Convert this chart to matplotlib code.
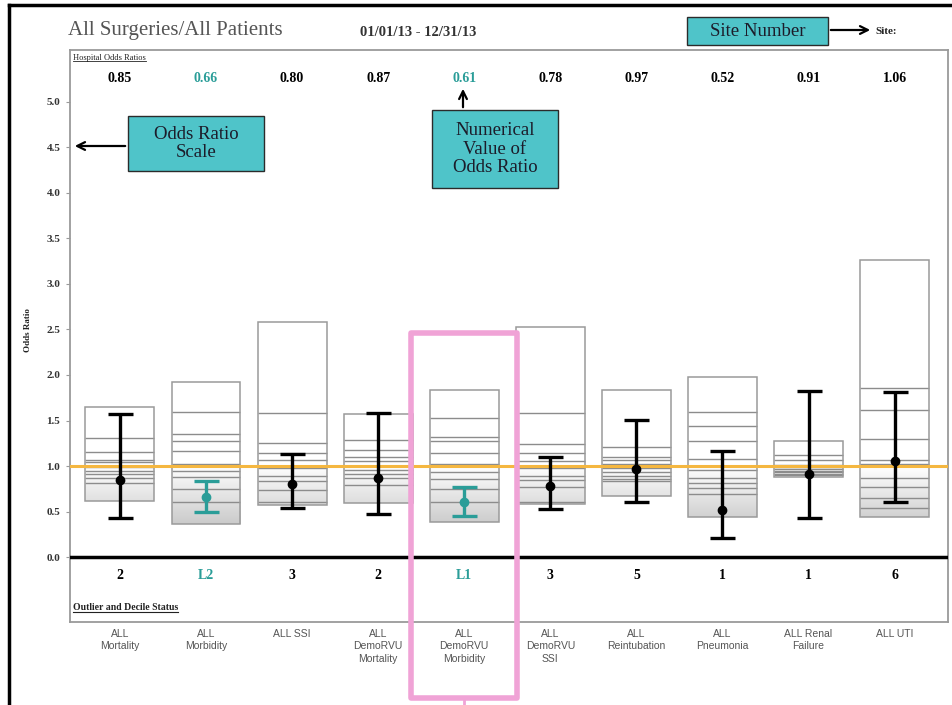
import numpy as np
import matplotlib
matplotlib.use("Agg")
import matplotlib.pyplot as plt
from matplotlib.patches import Rectangle, FancyArrowPatch
from matplotlib.lines import Line2D
from matplotlib.transforms import IdentityTransform

# data
categories = ["ALL\nMortality", "ALL\nMorbidity", "ALL SSI", "ALL\nDemoRVU\nMortality",
              "ALL\nDemoRVU\nMorbidity", "ALL\nDemoRVU\nSSI", "ALL\nReintubation",
              "ALL\nPneumonia", "ALL Renal\nFailure", "ALL UTI"]
odds = [0.85, 0.66, 0.80, 0.87, 0.61, 0.78, 0.97, 0.52, 0.91, 1.06]
ci_low = [0.43, 0.49, 0.54, 0.47, 0.45, 0.53, 0.60, 0.21, 0.43, 0.60]
ci_high = [1.57, 0.83, 1.13, 1.58, 0.77, 1.10, 1.51, 1.16, 1.82, 1.81]
status = ["2", "L2", "3", "2", "L1", "3", "5", "1", "1", "6"]
outlier = [False, True, False, False, True, False, False, False, False, False]

# min, nine decile lines, max for every category
deciles = [
    [0.62, 0.81, 0.865, 0.91, 0.945, 0.99, 1.04, 1.07, 1.15, 1.31, 1.65],
    [0.36, 0.61, 0.744, 0.876, 0.95, 1.02, 1.16, 1.27, 1.35, 1.59, 1.92],
    [0.57, 0.61, 0.74, 0.835, 0.89, 0.98, 1.07, 1.14, 1.25, 1.58, 2.58],
    [0.59, 0.79, 0.865, 0.91, 0.96, 1.00, 1.05, 1.10, 1.18, 1.29, 1.57],
    [0.39, 0.60, 0.747, 0.857, 0.93, 1.02, 1.14, 1.27, 1.32, 1.53, 1.83],
    [0.58, 0.61, 0.766, 0.846, 0.89, 0.98, 1.05, 1.14, 1.24, 1.58, 2.53],
    [0.67, 0.835, 0.86, 0.89, 0.93, 0.975, 1.02, 1.07, 1.10, 1.21, 1.83],
    [0.44, 0.69, 0.76, 0.81, 0.865, 0.956, 1.08, 1.28, 1.44, 1.59, 1.98],
    [0.88, 0.90, 0.91, 0.93, 0.95, 0.97, 0.99, 1.01, 1.07, 1.12, 1.28],
    [0.44, 0.535, 0.65, 0.77, 0.865, 1.02, 1.066, 1.30, 1.615, 1.86, 3.26],
]

TEAL = "#2a9d98"
BOXTEAL = "#4fc4c9"
SERIF = ["Liberation Serif", "DejaVu Serif"]
NARROW = ["Liberation Sans Narrow", "Liberation Sans", "DejaVu Sans"]
W, H = 953, 705

fig = plt.figure(figsize=(9.53, 7.05), dpi=100)
ax = fig.add_axes([70 / W, 1 - 622 / H, 878 / W, 572 / H])
ax.set_xlim(-0.58, 9.62)
ax.set_ylim(-0.714, 5.571)

x = np.arange(len(categories))
bw = 0.8

for i in range(len(categories)):
    d = deciles[i]
    box = Rectangle((x[i] - bw / 2, d[0]), bw, d[-1] - d[0], facecolor="none",
                    edgecolor="#9a9a9a", lw=1.1, zorder=3)
    ax.add_patch(box)
    # gray gradient, darker towards the bottom of the box
    top = min(1.0, d[-1])
    v = np.linspace(top, d[0], 150)
    g = np.clip(1 - 0.32 * (1.0 - v), 0, 1)
    rgb = np.repeat(g[:, None, None], 3, axis=2)
    im = ax.imshow(rgb, extent=[x[i] - bw / 2, x[i] + bw / 2, d[0], top], origin="upper",
                   aspect="auto", zorder=1, interpolation="bilinear")
    im.set_clip_path(box)
    ax.hlines(d[1:-1], x[i] - bw / 2, x[i] + bw / 2, color="#8c8c8c", lw=1.0, zorder=2)

ax.axhline(1.0, color="#f5b740", lw=2.2, zorder=4)
ax.axhline(0.0, color="black", lw=2.5, zorder=4)

for i in range(len(categories)):
    c = TEAL if outlier[i] else "black"
    ax.errorbar(x[i], odds[i], yerr=[[odds[i] - ci_low[i]], [ci_high[i] - odds[i]]],
                fmt="o", color=c, ms=6, lw=2.4, capsize=9, capthick=2.4, zorder=5)
    ax.text(x[i], 5.26, f"{odds[i]:.2f}", ha="center", va="center", fontsize=10,
            fontweight="bold", color=c, family=SERIF)
    ax.text(x[i], -0.2, status[i], ha="center", va="center", fontsize=10,
            fontweight="bold", color=c, family=SERIF)

for s in ax.spines.values():
    s.set_color("#9a9a9a")
    s.set_linewidth(1.3)

ax.set_yticks(np.arange(0, 5.01, 0.5))
ax.set_yticklabels([f"{v:.1f}" for v in np.arange(0, 5.01, 0.5)], fontsize=8,
                   fontweight="bold", family=SERIF, color="#333333")
ax.tick_params(axis="y", length=3, color="#9a9a9a", pad=4)
ax.set_xticks(x)
ax.set_xticklabels(categories, fontsize=7.5, color="#555555", family=NARROW, linespacing=1.3)
ax.tick_params(axis="x", length=0, pad=5)

t1 = ax.text(3 / 878, (622 - 58) / 572, "Hospital Odds Ratios", transform=ax.transAxes,
             fontsize=6, family=SERIF, color="#222222", va="center")
t2 = ax.text(3 / 878, (622 - 608) / 572, "Outlier and Decile Status", transform=ax.transAxes,
             fontsize=7, fontweight="bold", family=SERIF, color="#222222", va="center")

fig.text(28 / W, 1 - 330 / H, "Odds Ratio", rotation=90, ha="center", va="center",
         fontsize=6.5, fontweight="bold", family=SERIF, color="#222222")

fig.text(68 / W, 1 - 31 / H, "All Surgeries/All Patients", fontsize=15, family=SERIF,
         color="#555555", va="center")
fig.text(360 / W, 1 - 33 / H, "01/01/13 - 12/31/13", fontsize=10.5, family=SERIF,
         color="#333333", va="center", fontweight="semibold")
fig.text(875 / W, 1 - 32 / H, "Site:", fontsize=8, fontweight="bold", family=SERIF,
         color="#222222", va="center")


def callout(x0, y0, x1, y1, label, size=13.5):
    r = Rectangle((x0, H - y1), x1 - x0, y1 - y0, transform=IdentityTransform(),
                  facecolor=BOXTEAL, edgecolor="#2b2b2b", lw=1)
    fig.add_artist(r)
    fig.text((x0 + x1) / 2 / W, 1 - (y0 + y1) / 2 / H, label, ha="center", va="center",
             fontsize=size, family=SERIF, color="#1c1c2a", linespacing=1.12)


def arrow(p0, p1):
    a = FancyArrowPatch((p0[0], H - p0[1]), (p1[0], H - p1[1]), transform=IdentityTransform(),
                        arrowstyle="->", mutation_scale=14, lw=1.6, color="black")
    fig.add_artist(a)


callout(687, 17, 828, 45, "Site Number")
arrow((828, 30), (873, 30))
callout(128, 116, 264, 171, "Odds Ratio\nScale")
arrow((128, 146), (72, 146))
callout(432, 110, 558, 188, "Numerical\nValue of\nOdds Ratio")
arrow((463, 110), (463, 86))

# pink highlight around DemoRVU Morbidity
pink = Rectangle((3.385, -1.55), 1.23, 4.01, facecolor="none", edgecolor="#f0a3d6",
                 lw=4, clip_on=False, zorder=10, joinstyle="round")
ax.add_patch(pink)
ax.plot([4.0, 4.0], [-1.55, -1.7], color="#f0a3d6", lw=2, clip_on=False, zorder=10)

# slide border
fig.add_artist(Line2D([9, 9], [0, H - 5], transform=IdentityTransform(), color="black", lw=2.5))
fig.add_artist(Line2D([9, W], [H - 5, H - 5], transform=IdentityTransform(), color="black", lw=2.5))

# underlines
fig.canvas.draw()
for t, lw in [(t1, 0.6), (t2, 0.8)]:
    bb = t.get_window_extent()
    fig.add_artist(Line2D([bb.x0, bb.x1], [bb.y0 + 1, bb.y0 + 1], transform=IdentityTransform(),
                          color="#222222", lw=lw))

fig.savefig("out.png", dpi=100)
